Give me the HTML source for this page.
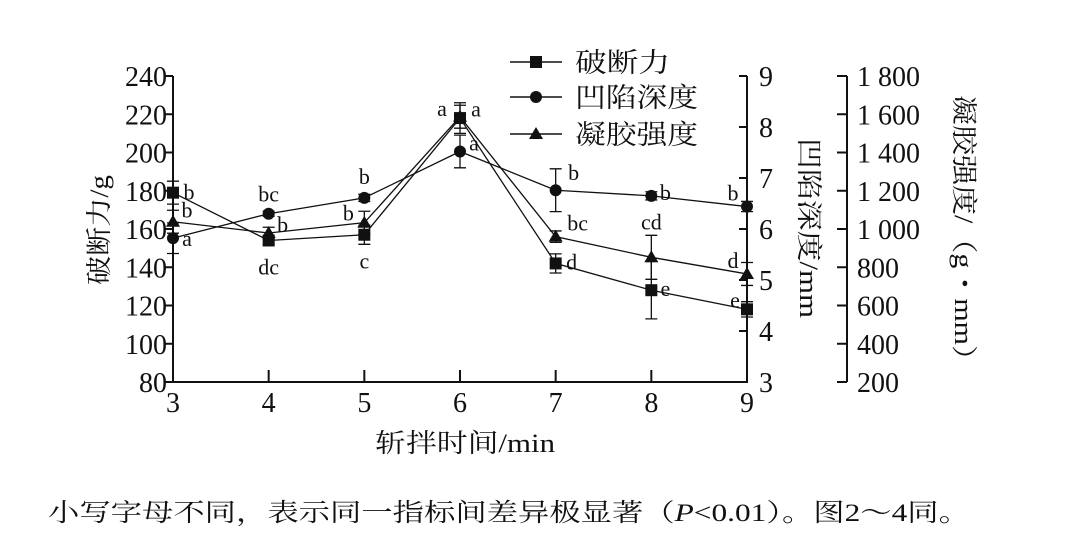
<!DOCTYPE html>
<html><head><meta charset="utf-8"><style>
html,body{margin:0;padding:0;background:#fff;}
svg{display:block;}
text{font-family:"Liberation Serif","Noto Serif CJK SC","Noto Sans CJK SC",serif;fill:#111;}
</style></head><body>
<svg id="chart" width="1090" height="540" viewBox="0 0 1090 540" xmlns="http://www.w3.org/2000/svg">
<g id="axes" stroke="#111" stroke-width="2" fill="none"></g>
<g id="marks"></g>
<g id="labels"></g>
<text x="108" y="230" font-size="26" text-anchor="middle" transform="rotate(-90 108 230)" textLength="110" lengthAdjust="spacingAndGlyphs">破断力/g</text>
<text x="800" y="228" font-size="26" text-anchor="middle" transform="rotate(90 800 228)" textLength="180" lengthAdjust="spacingAndGlyphs">凹陷深度/mm</text>
<text x="955" y="235" font-size="26" text-anchor="middle" transform="rotate(90 955 235)" textLength="280" lengthAdjust="spacingAndGlyphs">凝胶强度/（g・mm）</text>
<text x="465" y="452" font-size="26" text-anchor="middle" textLength="180" lengthAdjust="spacingAndGlyphs">斩拌时间/min</text>
<text x="48" y="521" font-size="25" textLength="922" lengthAdjust="spacingAndGlyphs">小写字母不同，表示同一指标间差异极显著（<tspan font-style="italic">P</tspan>&lt;0.01）。图2～4同。</text>
<g>
<line x1="510" y1="62" x2="562" y2="62" stroke="#111" stroke-width="1.5"/><rect x="530" y="56" width="12" height="12" fill="#111"/>
<text x="575" y="72" font-size="27" textLength="95" lengthAdjust="spacingAndGlyphs">破断力</text>
<line x1="510" y1="97" x2="562" y2="97" stroke="#111" stroke-width="1.5"/><circle cx="536" cy="97" r="6" fill="#111"/>
<text x="575" y="107" font-size="27" textLength="123" lengthAdjust="spacingAndGlyphs">凹陷深度</text>
<line x1="510" y1="134" x2="562" y2="134" stroke="#111" stroke-width="1.5"/><polygon points="536,127 543,139 529,139" fill="#111"/>
<text x="575" y="144" font-size="27" textLength="123" lengthAdjust="spacingAndGlyphs">凝胶强度</text>
</g>
</svg>
<script>
const categories=[3,4,5,6,7,8,9];
const forceVals=[179,154,157,218,142,128,118];
const forceErr=[6,2,5,8,5,15,4];
const forceLetters=["b","dc","c","a","d","e","e"];
const depthVals=[5.82,6.30,6.61,7.52,6.76,6.65,6.44];
const depthErr=[0.3,0.05,0.07,0.32,0.42,0.08,0.1];
const depthLetters=["a","bc","b","a","b","b","b"];
const gelVals=[1038,979,1033,1587,960,852,765];
const gelErr=[60,30,60,60,30,115,60];
const gelLetters=["b","b","b","a","bc","cd","d"];
const leftTicks=[80,100,120,140,160,180,200,220,240];
const depthTicks=[3,4,5,6,7,8,9];
const gelTicks=[200,400,600,800,1000,1200,1400,1600,1800];
const gelTickLabels=["200","400","600","800","1 000","1 200","1 400","1 600","1 800"];

const X0=173,X1=747,YT=76,YB=382;
const xs=v=>X0+(v-3)/6*(X1-X0);
const yF=v=>YB-(v-80)/160*(YB-YT);
const yD=v=>YB-(v-3)/6*(YB-YT);
const yG=v=>YB-(v-200)/1600*(YB-YT);
const NS="http://www.w3.org/2000/svg";
function mk(tag,attrs,parent){const e=document.createElementNS(NS,tag);for(const k in attrs)e.setAttribute(k,attrs[k]);parent.appendChild(e);return e;}
const axes=document.getElementById('axes'),marks=document.getElementById('marks'),labels=document.getElementById('labels');

// left axis
let a=mk('path',{d:`M${X0},${YT} V${YB} H${X1} V${YT}`},axes);


leftTicks.forEach(t=>{const y=yF(t);mk('line',{x1:X0-8,y1:y,x2:X0,y2:y},axes);
 const tx=mk('text',{x:X0-6,y:y+10,'font-size':28,'text-anchor':'end',stroke:'none'},labels);tx.textContent=t;
 
 });
categories.forEach(c=>{const x=xs(c);mk('line',{x1:x,y1:YB,x2:x,y2:YB-12},axes);
 const tx=mk('text',{x:x,y:YB+30,'font-size':28,'text-anchor':'middle'},labels);tx.textContent=c;
 
 });
depthTicks.forEach(t=>{const y=yD(t);mk('line',{x1:X1-8,y1:y,x2:X1,y2:y},axes);
 const tx=mk('text',{x:X1+12,y:y+10,'font-size':28},labels);tx.textContent=t;
 
 });
const GX=847;
mk('line',{x1:GX,y1:YT,x2:GX,y2:YB},axes);
gelTicks.forEach((t,i)=>{const y=yG(t);mk('line',{x1:GX-10,y1:y,x2:GX,y2:y},axes);
 const tx=mk('text',{x:GX+10,y:y+10,'font-size':28},labels);tx.textContent=gelTickLabels[i];
 
 });

function series(vals,errs,letters,yf,shape,name,lblOff){
 const g=mk('g',{},marks);
 
 
 mk('polyline',{points:vals.map((v,i)=>xs(categories[i])+','+yf(v)).join(' '),fill:'none',stroke:'#111','stroke-width':1.3},g);
 vals.forEach((v,i)=>{const x=xs(categories[i]),y=yf(v),e=yf(v+errs[i]),e2=yf(v-errs[i]);
  mk('path',{d:`M${x},${e} V${e2} M${x-6},${e} H${x+6} M${x-6},${e2} H${x+6}`,stroke:'#111','stroke-width':1.3,fill:'none'},g);
  let m;
  if(shape==='sq')m=mk('rect',{x:x-6,y:y-6,width:12,height:12,fill:'#111'},g);
  else if(shape==='ci')m=mk('circle',{cx:x,cy:y,r:6,fill:'#111'},g);
  else m=mk('polygon',{points:`${x},${y-7} ${x+7},${y+5} ${x-7},${y+5}`,fill:'#111'},g);
  
  
  const o=lblOff[i];const t=mk('text',{x:x+o[0],y:y+o[1],'font-size':22,'text-anchor':'middle'},labels);t.textContent=letters[i];
  
  
 });
}
series(forceVals,forceErr,forceLetters,yF,'sq','force',[[16,7],[0,34],[0,34],[-18,-2],[16,6],[14,6],[-12,-2]]);
series(depthVals,depthErr,depthLetters,yD,'ci','depth',[[14,8],[0,-12],[0,-14],[14,-1],[18,-10],[14,4],[-14,-6]]);
series(gelVals,gelErr,gelLetters,yG,'tr','gel',[[14,-4],[14,-1],[-16,-2],[16,0],[22,-6],[0,-28],[-14,-6]]);
</script>
</body></html>
